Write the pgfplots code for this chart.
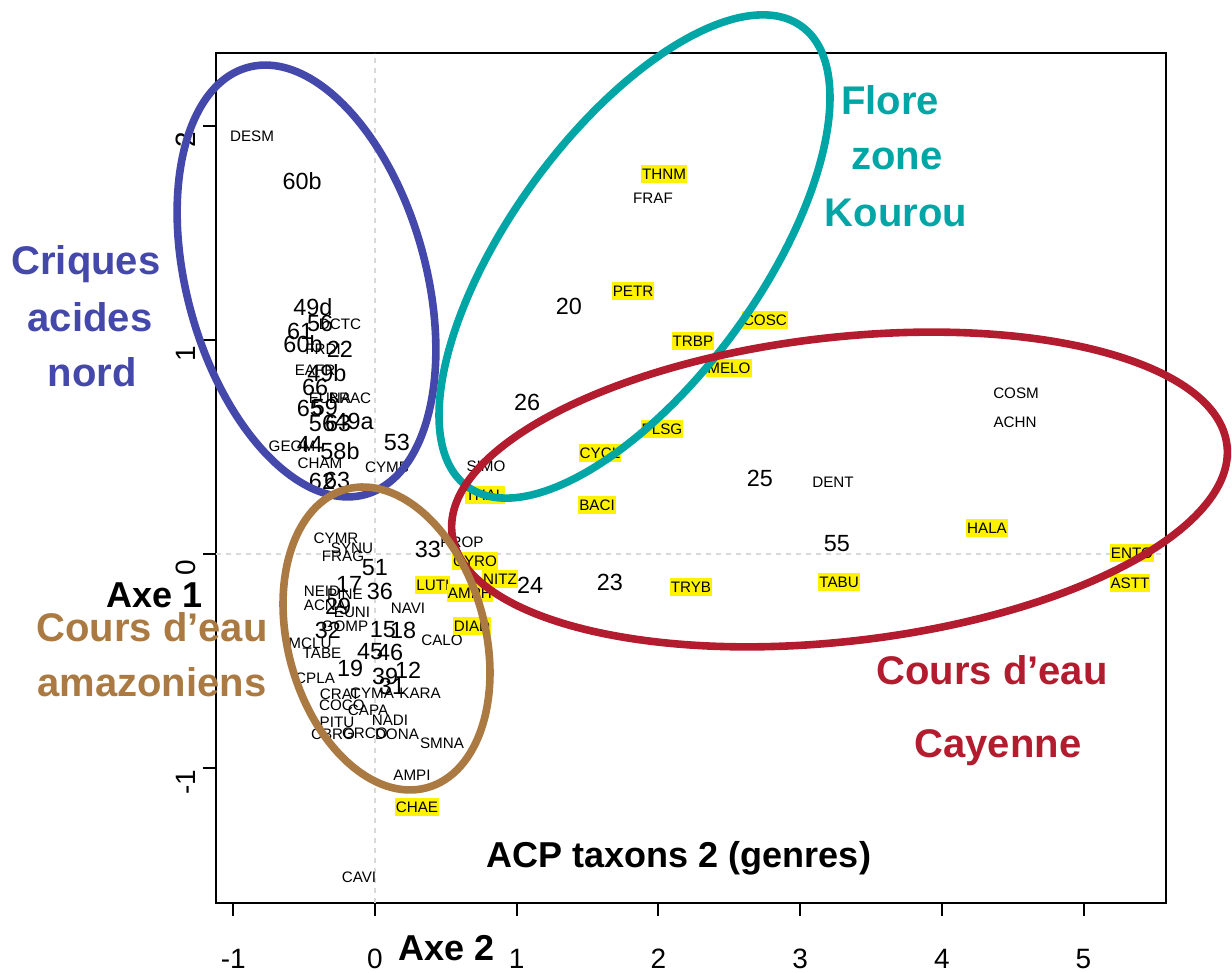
\documentclass[border=0pt]{standalone}
\usepackage{pgfplots}
\pgfplotsset{compat=1.18}
\usepackage{pgfplotstable}
\usepackage{fontspec}
\setmainfont{Liberation Sans}

\definecolor{cblue}{RGB}{68,72,170}
\definecolor{cteal}{RGB}{0,166,166}
\definecolor{cred}{RGB}{178,28,46}
\definecolor{cbrown}{RGB}{170,122,66}

\newcommand\smalllab{\fontsize{7.6}{8}\selectfont}
\newcommand\biglab{\fontsize{11.7}{13}\selectfont}
\newcommand\annot{\bfseries\fontsize{20}{24}\selectfont}

% sites (big numbers)
\pgfplotstableread{
x y label
-0.515 1.743 60b
-0.438 1.154 49d
-0.529 1.042 61
-0.388 1.079 56
-0.508 0.981 60b
-0.247 0.958 22
-0.339 0.846 49b
-0.423 0.780 66
-0.459 0.682 65
-0.353 0.687 59
-0.374 0.612 56
-0.261 0.612 63
-0.148 0.621 49a
-0.459 0.514 44
-0.247 0.481 58b
0.155 0.523 53
-0.374 0.341 62
-0.268 0.346 63
1.369 1.159 20
1.073 0.710 26
2.717 0.355 25
3.260 0.047 55
0.374 0.019 33
1.094 -0.145 24
1.658 -0.131 23
0.000 -0.065 51
-0.183 -0.140 17
0.035 -0.173 36
0.056 -0.355 15
0.198 -0.355 18
-0.332 -0.355 32
-0.261 -0.243 29
-0.035 -0.458 45
0.106 -0.458 46
0.233 -0.542 12
0.071 -0.570 39
0.120 -0.617 31
-0.176 -0.533 19
}\sites

% taxa, plain
\pgfplotstableread{
x y label
-0.868 1.953 DESM
-0.247 1.075 DCTC
-0.367 0.958 FRDI
-0.423 0.860 EAFR
-0.318 0.729 EUNA
-0.176 0.729 BRAC
-0.586 0.505 GEOM
-0.388 0.425 CHAM
0.085 0.407 CYMB
0.783 0.411 SIMO
1.962 1.664 FRAF
4.524 0.752 COSM
4.517 0.617 ACHN
3.232 0.336 DENT
0.614 0.056 PROP
-0.275 0.075 CYMR
-0.162 0.028 SYNU
-0.226 -0.009 FRAG
-0.374 -0.173 NEID
-0.212 -0.187 PINE
-0.353 -0.238 ACNA
-0.162 -0.271 EUNI
0.233 -0.252 NAVI
-0.212 -0.336 GOMP
0.473 -0.402 CALO
-0.459 -0.416 MCLU
-0.374 -0.463 TABE
-0.423 -0.579 CPLA
-0.247 -0.654 CRAT
-0.021 -0.650 CYMA
0.318 -0.650 KARA
-0.233 -0.706 COCO
-0.049 -0.729 CAPA
-0.268 -0.785 PITU
0.106 -0.776 NADI
-0.296 -0.841 CBRO
-0.071 -0.836 GRCO
0.155 -0.841 DONA
0.473 -0.883 SMNA
0.261 -1.033 AMPI
-0.113 -1.509 CAVI
}\taxa

% taxa, highlighted
\pgfplotstableread{
x y label
2.040 1.776 THNM
1.821 1.229 PETR
2.752 1.093 COSC
2.244 0.995 TRBP
2.498 0.869 MELO
2.025 0.584 PLSG
1.588 0.472 CYCL
0.776 0.276 THAL
1.567 0.229 BACI
4.319 0.121 HALA
5.342 0.005 ENTO
5.328 -0.136 ASTT
3.275 -0.131 TABU
2.230 -0.154 TRYB
0.706 -0.033 CYRO
0.882 -0.117 NITZ
0.409 -0.145 LUTI
0.670 -0.182 AMPH
0.685 -0.336 DIAD
0.296 -1.182 CHAE
}\taxahl

\begin{document}
\begin{tikzpicture}
\begin{axis}[
    at={(0,0)}, anchor=south west,
    scale only axis, width=475pt, height=425pt,
    xmin=-1.1221, xmax=5.5822, ymin=-1.6308, ymax=2.3411,
    axis line style={line width=1pt},
    tick pos=left, tick align=outside,
    major tick length=6.5pt,
    every tick/.style={black, line width=1pt},
    xtick={-1,0,1,2,3,4,5}, xticklabels={-1,0,1,2,3,4,5},
    ytick={-1,0,1,2}, yticklabels={-1,0,1,2},
    xticklabel style={font=\fontsize{14}{16}\selectfont, yshift=-13pt},
    yticklabel style={font=\fontsize{14}{16}\selectfont, rotate=90, anchor=south, xshift=-7pt},
    clip=false,
    point meta=explicit symbolic,
]
\addplot[gray!30, line width=1pt, dash pattern=on 2.5pt off 2.5pt, forget plot]
  coordinates {(0,-1.6308) (0,2.3411)};
\addplot[gray!30, line width=1pt, dash pattern=on 2.5pt off 2.5pt, forget plot]
  coordinates {(-1.1221,0) (5.5822,0)};

\addplot[only marks, mark=*, mark size=0pt, mark options={draw=none, fill=none},
  nodes near coords,
  every node near coord/.append style={anchor=center, font=\biglab, inner sep=0pt, text=black}]
  table[meta=label] {\sites};
\addplot[only marks, mark=*, mark size=0pt, mark options={draw=none, fill=none},
  nodes near coords,
  every node near coord/.append style={anchor=center, font=\smalllab, inner sep=0pt, text=black}]
  table[meta=label] {\taxa};
\addplot[only marks, mark=*, mark size=0pt, mark options={draw=none, fill=none},
  nodes near coords,
  every node near coord/.append style={anchor=center, font=\smalllab, inner xsep=0.5pt, inner ysep=1.8pt, fill=yellow, text=black}]
  table[meta=label] {\taxahl};
\end{axis}

% annotations, in image pixels
\begin{scope}[x=0.5pt, y=-0.5pt, shift={(-108pt,451.5pt)}]
  \draw[cblue, line width=3.8pt, shift={(306.5,281)}, rotate=15.4] (0,0) ellipse [x radius=119.5, y radius=221.5];
  \draw[cteal, line width=3.8pt, shift={(634.5,256.5)}, rotate=-36] (0,0) ellipse [x radius=125.2, y radius=284.4];
  \draw[cred, line width=3.8pt, shift={(839.5,489.5)}, rotate=6.5] (0,0) ellipse [x radius=390, y radius=152];
  \draw[cbrown, line width=3.8pt, shift={(386.5,638.5)}, rotate=15.1] (0,0) ellipse [x radius=98.7, y radius=154.6];

  \node[text=cblue, font=\annot, anchor=base] at (86,275) {Criques};
  \node[text=cblue, font=\annot, anchor=base] at (90,332) {acides};
  \node[text=cblue, font=\annot, anchor=base] at (92,387) {nord};
  \node[text=cteal, font=\annot, anchor=base] at (890,115) {Flore};
  \node[text=cteal, font=\annot, anchor=base] at (897,170) {zone};
  \node[text=cteal, font=\annot, anchor=base] at (896,227) {Kourou};
  \node[text=cred, font=\annot, anchor=base] at (992,685) {Cours d’eau};
  \node[text=cred, font=\annot, anchor=base] at (998,758) {Cayenne};
  \node[text=cbrown, font=\annot, anchor=base] at (152,642) {Cours d’eau};
  \node[text=cbrown, font=\annot, anchor=base] at (152,697) {amazoniens};
  \node[font=\bfseries\fontsize{18}{20}\selectfont, anchor=base] at (155,608) {Axe 1};
  \node[font=\bfseries\fontsize{18}{20}\selectfont, anchor=base] at (447,961) {Axe 2};
  \node[font=\bfseries\fontsize{18}{20}\selectfont, anchor=base] at (679,868) {ACP taxons 2 (genres)};
\end{scope}

\pgfresetboundingbox
\path[use as bounding box] (-108pt,-35pt) rectangle (508pt,451.5pt);
\end{tikzpicture}
\end{document}
